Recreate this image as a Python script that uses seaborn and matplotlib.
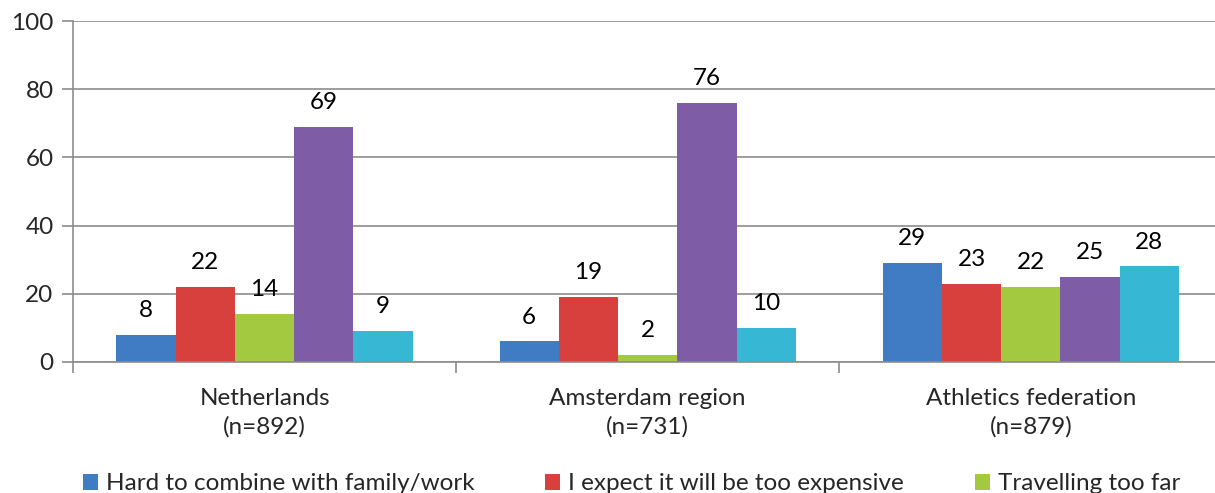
import matplotlib
matplotlib.use("Agg")
import matplotlib.pyplot as plt
import seaborn as sns
import pandas as pd
from matplotlib.patches import Patch

categories = ["Netherlands\n(n=892)", "Amsterdam region\n(n=731)", "Athletics federation\n(n=879)"]
series = ["Hard to combine with family/work", "I expect it will be too expensive",
          "Travelling too far", "Series 4", "Series 5"]
values = {
    "Hard to combine with family/work": [8, 6, 29],
    "I expect it will be too expensive": [22, 19, 23],
    "Travelling too far": [14, 2, 22],
    "Series 4": [69, 76, 25],
    "Series 5": [9, 10, 28],
}
colors = ["#3F7CC4", "#D8403E", "#A2C940", "#7F5CA6", "#36B8D4"]
legend_shown = 3

rows = []
for s in series:
    for c, v in zip(categories, values[s]):
        rows.append({"category": c, "series": s, "value": v})
df = pd.DataFrame(rows)

sns.set_theme(style="white")
plt.rcParams["font.family"] = ["Lato", "DejaVu Sans"]

FS = 17.5
fig = plt.figure(figsize=(12.15, 4.93), dpi=100)
ax = fig.add_axes([73 / 1215, 0.266, 0.946, 0.691])

sns.barplot(data=df, x="category", y="value", hue="series", hue_order=series,
            palette=colors, saturation=1, width=0.773, ax=ax, legend=False,
            edgecolor="none", linewidth=0)

for cont in ax.containers:
    ax.bar_label(cont, padding=10, fontsize=FS, color="#000000")

ax.set_ylim(0, 100)
ax.set_yticks([0, 20, 40, 60, 80, 100])
ax.set_xlim(-0.5, 2.5)
ax.set_xlabel("")
ax.set_ylabel("")
ax.yaxis.grid(True, color="#8c8c8c", linewidth=1.2)
ax.set_axisbelow(True)
for sp in ["top", "right"]:
    ax.spines[sp].set_visible(False)
for sp in ["left", "bottom"]:
    ax.spines[sp].set_color("#8c8c8c")
    ax.spines[sp].set_linewidth(1.2)

ax.tick_params(axis="y", which="major", length=8, width=1.2, color="#8c8c8c",
               labelsize=FS, pad=6, left=True)
ax.tick_params(axis="x", which="major", length=0, labelsize=FS, pad=19)
ax.set_xticks([-0.5, 0.5, 1.5, 2.5], minor=True)
ax.tick_params(axis="x", which="minor", length=8, width=1.2, color="#8c8c8c", bottom=True)
for lbl in ax.get_xticklabels():
    lbl.set_linespacing(1.38)

handles = [Patch(facecolor=colors[i], edgecolor="none", label=series[i]) for i in range(legend_shown)]
fig.legend(handles=handles, loc="center left", bbox_to_anchor=(83 / 1215, 9 / 493), ncol=3,
           frameon=False, fontsize=FS, handlelength=0.62, handleheight=0.62,
           handletextpad=0.33, columnspacing=2.9, borderpad=0, borderaxespad=0)

fig.savefig("out.png", dpi=100)
